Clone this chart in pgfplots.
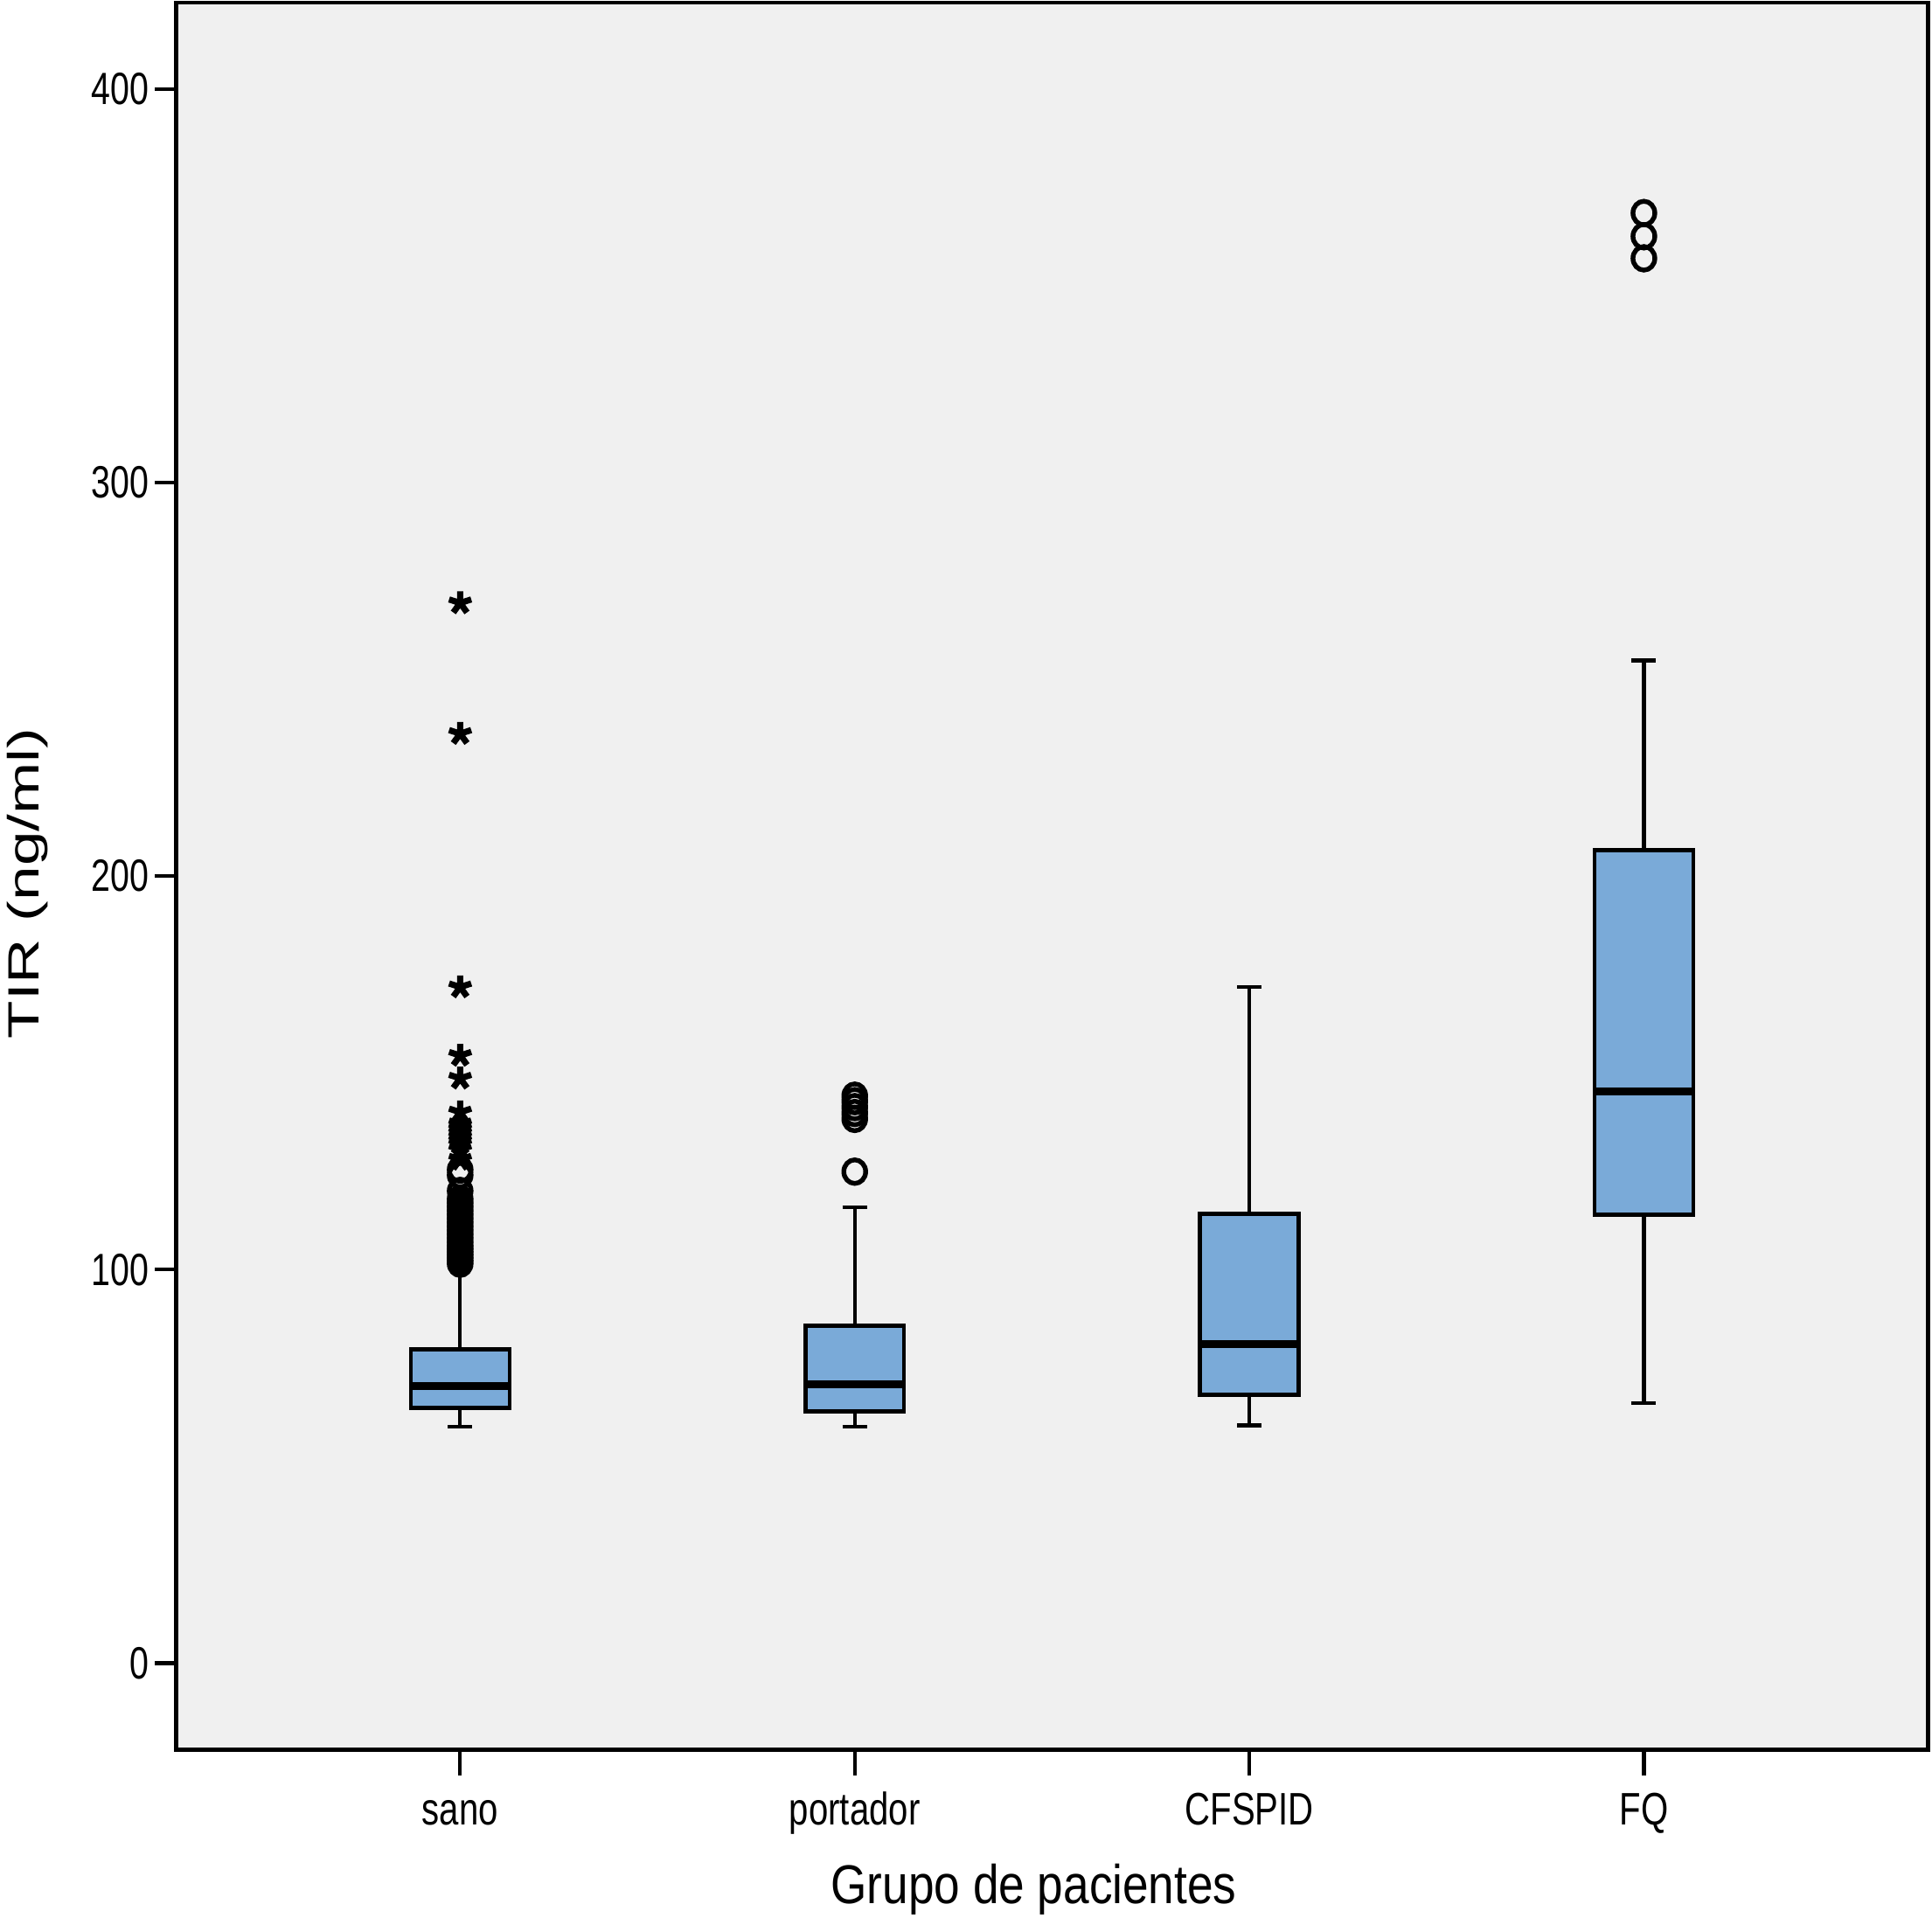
\documentclass[border=0pt]{standalone}
\usepackage{fontspec}
\setmainfont{Liberation Sans}
\newfontfamily\ytickfont{Liberation Sans}[FakeStretch=0.76]
\newfontfamily\xtickfont{Liberation Sans}[FakeStretch=0.77]
\newfontfamily\xlabfont{Liberation Sans}[FakeStretch=0.85]
\newfontfamily\ylabfont{Liberation Sans}[FakeStretch=1.42]
\usepackage{pgfplots}
\pgfplotsset{compat=1.18}
\definecolor{bg}{RGB}{240,240,240}
\definecolor{boxblue}{RGB}{122,170,216}

\begin{document}
\begin{tikzpicture}
\useasboundingbox (-48.3pt,-46.1pt) rectangle (481.7pt,480pt);
\begin{axis}[
    scale only axis,
    width=480.6pt, height=479.3pt,
    xmin=0.28, xmax=4.72,
    ymin=-22, ymax=422,
    axis background/.style={fill=bg},
    axis line style={line width=1.1pt},
    xtick={1,2,3,4},
    xticklabels={sano,portador,CFSPID,FQ},
    ytick={0,100,200,300,400},
    tick align=outside,
    xtick pos=bottom, ytick pos=left,
    major tick length=7pt,
    ytick style={/pgfplots/major tick length=5.8pt},
    tick style={line width=1pt, black},
    /pgf/number format/assume math mode=true,
    yticklabel style={font=\fontsize{12.4}{14}\ytickfont, inner sep=0.3pt},
    xticklabel style={font=\fontsize{12.5}{14}\xtickfont, inner sep=4.5pt,
        text height=9pt, text depth=0pt},
    xlabel={Grupo de pacientes},
    ylabel={TIR (ng/ml)},
    xlabel style={at={(axis description cs:0.5,0)}, anchor=base, yshift=-42.2pt, xshift=-5pt,
        inner sep=0pt, font=\fontsize{15}{18}\xlabfont},
    ylabel style={at={(axis description cs:0,0.5)}, anchor=north, yshift=46.6pt, xshift=-2pt,
        inner sep=0pt, font=\fontsize{12}{14}\ylabfont},
    unbounded coords=jump,
    box/.style={fill=boxblue, draw=black, line width=1.1pt},
    med/.style={black, line width=2.2pt},
    whisk/.style={black, line width=1pt},
]
% --- sano
\addplot[box] coordinates {(0.875,64.8) (1.125,64.8) (1.125,79.8) (0.875,79.8)} -- cycle;
\addplot[med] coordinates {(0.875,70.4) (1.125,70.4)};
\addplot[whisk] coordinates {(1,79.8) (1,101.5) (1,nan) (1,64.8) (1,60)
    (1,nan) (0.969,60) (1.031,60)};
% --- portador
\addplot[box] coordinates {(1.875,64.0) (2.125,64.0) (2.125,85.7) (1.875,85.7)} -- cycle;
\addplot[med] coordinates {(1.875,70.9) (2.125,70.9)};
\addplot[whisk] coordinates {(2,85.7) (2,115.9) (2,nan) (1.969,115.9) (2.031,115.9)
    (2,nan) (2,64.0) (2,60) (2,nan) (1.969,60) (2.031,60)};
% --- CFSPID
\addplot[box] coordinates {(2.875,68.2) (3.125,68.2) (3.125,114.2) (2.875,114.2)} -- cycle;
\addplot[med] coordinates {(2.875,81.1) (3.125,81.1)};
\addplot[whisk] coordinates {(3,114.2) (3,171.8) (3,nan) (2.969,171.8) (3.031,171.8)
    (3,nan) (3,68.2) (3,60.4) (3,nan) (2.969,60.4) (3.031,60.4)};
% --- FQ
\addplot[box] coordinates {(3.875,113.9) (4.125,113.9) (4.125,206.6) (3.875,206.6)} -- cycle;
\addplot[med] coordinates {(3.875,145.2) (4.125,145.2)};
\addplot[whisk] coordinates {(4,206.6) (4,254.8) (4,nan) (3.969,254.8) (4.031,254.8)
    (4,nan) (4,113.9) (4,66.0) (4,nan) (3.969,66.0) (4.031,66.0)};

% outliers (circles)
\addplot[only marks, mark=o, mark size=3pt,
    mark options={line width=1.3pt, draw=black, yscale=1.08}]
coordinates {
    (1,101.5) (1,102.3) (1,103) (1,103.8) (1,104.5) (1,105.3) (1,106) (1,107)
    (1,108) (1,109) (1,110) (1,111) (1,112) (1,113) (1,114) (1,115)
    (1,116) (1,117) (1,118) (1,120) (1,124) (1,125.4)
    (2,124.9) (2,138.3) (2,139.8) (2,141.3) (2,142.8) (2,144.2)
    (4,357.0) (4,362.6) (4,368.5)
};
% extremes (stars)
\addplot[only marks, mark=star, mark size=3.2pt, mark options={line width=1.7pt, draw=black}]
coordinates {
    (1,128) (1,130.5) (1,132) (1,133) (1,134) (1,135) (1,136) (1,137)
    (1,140) (1,148.6) (1,154.4) (1,171.8) (1,236.2) (1,269.4)
};
\end{axis}
\end{tikzpicture}
\end{document}
